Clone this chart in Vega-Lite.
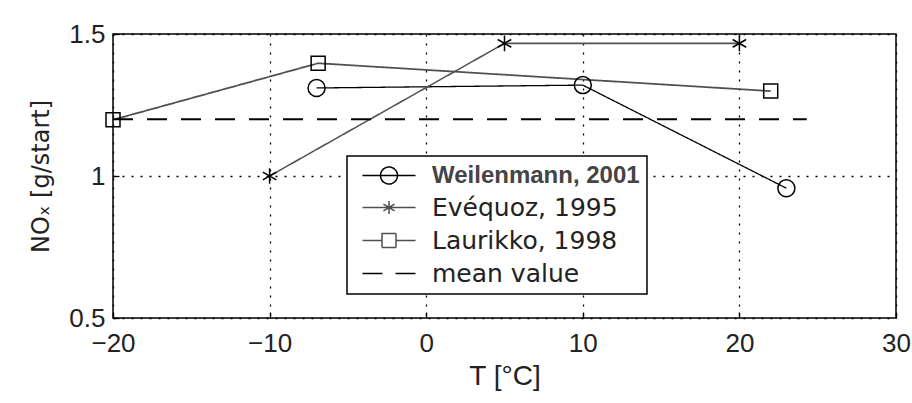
{
  "$schema": "https://vega.github.io/schema/vega-lite/v6.json",
  "width": 783,
  "height": 284,
  "autosize": {"type": "none"},
  "padding": {"left": 113, "top": 34, "right": 16, "bottom": 85},
  "background": "white",
  "config": {
    "view": {"stroke": "black", "strokeWidth": 1.5},
    "axis": {
      "grid": true,
      "gridColor": "black",
      "gridDash": [2, 7],
      "gridWidth": 1.3,
      "gridOpacity": 1,
      "domain": false,
      "ticks": true,
      "tickColor": "black",
      "tickSize": -6,
      "tickWidth": 1.3,
      "labelFlush": false,
      "labelOverlap": false,
      "labelFont": "Liberation Sans",
      "labelFontSize": 26,
      "labelColor": "#222",
      "titleColor": "#222",
      "titleFontWeight": "normal"
    }
  },
  "data": {
    "values": [
      {"series": "Weilenmann, 2001", "T": -7, "NOx": 1.31},
      {"series": "Weilenmann, 2001", "T": 10, "NOx": 1.32},
      {"series": "Weilenmann, 2001", "T": 23, "NOx": 0.957},
      {"series": "Evéquoz, 1995", "T": -10, "NOx": 1.0},
      {"series": "Evéquoz, 1995", "T": 5, "NOx": 1.467},
      {"series": "Evéquoz, 1995", "T": 20, "NOx": 1.467},
      {"series": "Laurikko, 1998", "T": -20, "NOx": 1.198},
      {"series": "Laurikko, 1998", "T": -6.9, "NOx": 1.397},
      {"series": "Laurikko, 1998", "T": 22, "NOx": 1.299},
      {"series": "mean value", "T": -20, "NOx": 1.2},
      {"series": "mean value", "T": 24.3, "NOx": 1.2}
    ]
  },
  "encoding": {
    "x": {
      "field": "T",
      "type": "quantitative",
      "scale": {"domain": [-20, 30], "nice": false, "zero": false},
      "axis": {
        "values": [-20, -10, 0, 10, 20, 30],
        "format": "d",
        "title": "T [°C]",
        "titleFont": "Liberation Sans",
        "titleFontSize": 28,
        "titlePadding": 6,
        "labelPadding": 18
      }
    },
    "y": {
      "field": "NOx",
      "type": "quantitative",
      "scale": {"domain": [0.5, 1.5], "nice": false, "zero": false},
      "axis": {
        "values": [0.5, 1, 1.5],
        "labelExpr": "datum.value == 1 ? '1' : format(datum.value, '.1f')",
        "title": "NOₓ [g/start]",
        "titleFont": "DejaVu Sans",
        "titleFontSize": 24,
        "titlePadding": 15,
        "labelPadding": 14
      }
    }
  },
  "layer": [
    {
      "mark": {"type": "line", "clip": false},
      "encoding": {
        "detail": {"field": "series"},
        "color": {
          "field": "series",
          "type": "nominal",
          "scale": {
            "domain": ["Weilenmann, 2001", "Evéquoz, 1995", "Laurikko, 1998", "mean value"],
            "range": ["#000000", "#505050", "#505050", "#000000"]
          },
          "legend": {
            "title": null,
            "orient": "none",
            "legendX": 234,
            "legendY": 122,
            "padding": 7,
            "symbolOffset": 6,
            "rowPadding": 7,
            "labelOffset": 47,
            "labelFont": "DejaVu Sans",
            "labelFontSize": 25,
            "labelColor": "#222",
            "labelLimit": 400,
            "fillColor": "white",
            "strokeColor": "black",
            "symbolSize": 400,
            "symbolStrokeWidth": 1.5,
            "encode": {
              "legend": {"update": {"strokeWidth": {"value": 1.5}}},
              "symbols": {
                "update": {
                  "shape": {"signal": "datum.value == 'Weilenmann, 2001' ? 'M-1,0L4.3,0M2.5,0A0.85,0.85,0,1,1,0.8,0A0.85,0.85,0,1,1,2.5,0' : datum.value == 'Evéquoz, 1995' ? 'M-1,0L4.3,0M1.65,-0.65L1.65,0.65M1.09,-0.33L2.21,0.33M1.09,0.33L2.21,-0.33' : datum.value == 'Laurikko, 1998' ? 'M-1,0L0.95,0M2.35,0L4.3,0M0.95,-0.7L2.35,-0.7L2.35,0.7L0.95,0.7Z' : 'M-1,0L1,0M2.3,0L4.3,0'"},
                  "stroke": {"signal": "datum.value == 'Evéquoz, 1995' || datum.value == 'Laurikko, 1998' ? '#444444' : '#000000'"},
                  "strokeDash": {"value": [1, 0]},
                  "fill": {"value": "transparent"},
                  "size": {"value": 400},
                  "strokeWidth": {"value": 1.5}
                }
              },
              "labels": {
                "update": {
                  "font": {"signal": "datum.value == 'Weilenmann, 2001' ? 'Liberation Sans' : 'DejaVu Sans'"},
                  "fontWeight": {"signal": "datum.value == 'Weilenmann, 2001' ? 'bold' : 'normal'"},
                  "fontSize": {"signal": "datum.value == 'Weilenmann, 2001' ? 24 : 25"},
                  "fill": {"signal": "datum.value == 'Weilenmann, 2001' ? '#444444' : '#222222'"}
                }
              }
            }
          }
        },
        "strokeDash": {
          "field": "series",
          "type": "nominal",
          "scale": {
            "domain": ["Weilenmann, 2001", "Evéquoz, 1995", "Laurikko, 1998", "mean value"],
            "range": [[1, 0], [1, 0], [1, 0], [20, 14]]
          },
          "legend": null
        },
        "size": {
          "field": "series",
          "type": "nominal",
          "scale": {
            "domain": ["Weilenmann, 2001", "Evéquoz, 1995", "Laurikko, 1998", "mean value"],
            "range": [1.3, 2, 2, 1.8]
          },
          "legend": null
        }
      }
    },
    {
      "transform": [{"filter": "datum.series != 'mean value'"}],
      "mark": {"type": "point", "filled": false, "color": "black", "strokeWidth": 1.5, "opacity": 1, "clip": false},
      "encoding": {
        "shape": {
          "field": "series",
          "type": "nominal",
          "scale": {
            "domain": ["Weilenmann, 2001", "Evéquoz, 1995", "Laurikko, 1998"],
            "range": ["circle", "M0,-1L0,1M-0.87,-0.5L0.87,0.5M-0.87,0.5L0.87,-0.5", "square"]
          },
          "legend": null
        },
        "size": {
          "field": "series",
          "type": "nominal",
          "scale": {
            "domain": ["Weilenmann, 2001", "Evéquoz, 1995", "Laurikko, 1998"],
            "range": [289, 196, 225]
          },
          "legend": null
        }
      }
    }
  ],
  "resolve": {"scale": {"size": "independent", "shape": "independent"}}
}
